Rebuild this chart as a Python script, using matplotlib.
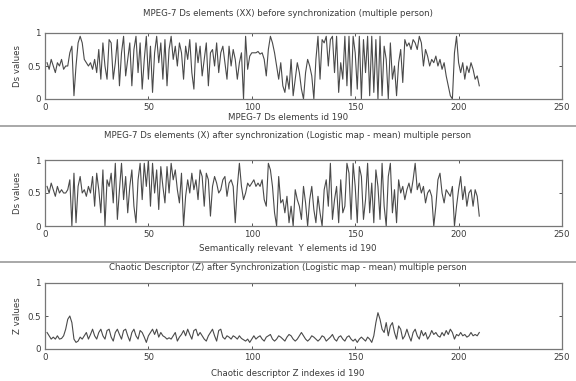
import numpy as np
import matplotlib
matplotlib.use("Agg")
import matplotlib.pyplot as plt

# values (index 1..210)
ds_before = [
    0.55, 0.45, 0.60, 0.50, 0.40, 0.55, 0.50, 0.60, 0.45, 0.50,
    0.50, 0.70, 0.80, 0.05, 0.50, 0.85, 0.95, 0.85, 0.60, 0.55,
    0.50, 0.55, 0.45, 0.60, 0.40, 0.75, 0.30, 0.85, 0.50, 0.30,
    0.90, 0.85, 0.30, 0.55, 0.90, 0.20, 0.70, 0.95, 0.35, 0.60,
    0.85, 0.20, 0.75, 0.95, 0.40, 0.85, 0.15, 0.60, 0.95, 0.30,
    0.80, 0.10, 0.70, 0.95, 0.55, 0.85, 0.30, 0.90, 0.20, 0.75,
    0.95, 0.60, 0.80, 0.50, 0.85, 0.70, 0.30, 0.80, 0.60, 0.90,
    0.40, 0.15, 0.85, 0.55, 0.80, 0.35, 0.60, 0.85, 0.20, 0.70,
    0.75, 0.50, 0.85, 0.40, 0.70, 0.80, 0.55, 0.30, 0.80, 0.50,
    0.75, 0.60, 0.30, 0.55, 0.70, 0.00, 0.95, 0.45, 0.65, 0.70,
    0.70, 0.70, 0.72, 0.68, 0.70, 0.60, 0.35, 0.75, 0.95, 0.85,
    0.70, 0.50, 0.30, 0.55, 0.20, 0.10, 0.35, 0.15, 0.60, 0.05,
    0.30, 0.55, 0.40, 0.15, 0.00, 0.40, 0.60, 0.50, 0.35, 0.00,
    0.60, 0.95, 0.30, 0.90, 0.85, 0.95, 0.50, 0.90, 0.95, 0.40,
    0.95, 0.10, 0.55, 0.30, 0.95, 0.20, 0.95, 0.05, 0.95, 0.70,
    0.15, 0.95, 0.00, 0.90, 0.40, 0.95, 0.05, 0.95, 0.10, 0.90,
    0.00, 0.95, 0.05, 0.80, 0.60, 0.00, 0.85, 0.30, 0.50, 0.05,
    0.55, 0.75, 0.25, 0.90, 0.80, 0.85, 0.75, 0.90, 0.85, 0.75,
    0.95, 0.85, 0.50, 0.75, 0.65, 0.50, 0.60, 0.55, 0.65, 0.50,
    0.60, 0.45, 0.55, 0.35, 0.20, 0.05, 0.00, 0.70, 0.95, 0.55,
    0.40, 0.55, 0.30, 0.50, 0.40, 0.55, 0.45, 0.30, 0.35, 0.20,
]

ds_after = [
    0.60, 0.50, 0.65, 0.55, 0.45, 0.60, 0.50, 0.55, 0.50, 0.50,
    0.55, 0.70, 0.00, 0.80, 0.05, 0.60, 0.75, 0.50, 0.55, 0.45,
    0.60, 0.50, 0.75, 0.30, 0.80, 0.55, 0.20, 0.85, 0.00, 0.70,
    0.60, 0.80, 0.35, 0.95, 0.10, 0.55, 0.95, 0.40, 0.75, 0.20,
    0.60, 0.85, 0.30, 0.05, 0.70, 0.95, 0.40, 0.95, 0.60, 1.00,
    0.30, 0.95, 0.50, 0.85, 0.25, 0.90, 0.60, 0.35, 0.90, 0.50,
    0.95, 0.70, 0.85, 0.55, 0.35, 0.80, 0.00, 0.45, 0.70, 0.50,
    0.80, 0.55, 0.70, 0.40, 0.85, 0.75, 0.30, 0.80, 0.70, 0.15,
    0.60, 0.75, 0.65, 0.50, 0.55, 0.70, 0.75, 0.45, 0.65, 0.70,
    0.60, 0.05, 0.60, 0.95, 0.60, 0.40, 0.50, 0.65, 0.60, 0.65,
    0.70, 0.60, 0.65, 0.60, 0.70, 0.40, 0.30, 0.95, 0.85, 0.60,
    0.20, 0.00, 0.75, 0.35, 0.40, 0.20, 0.45, 0.05, 0.30, 0.00,
    0.55, 0.40, 0.30, 0.10, 0.60, 0.35, 0.00, 0.40, 0.60, 0.25,
    0.05, 0.45, 0.20, 0.00, 0.55, 0.70, 0.30, 0.95, 0.10, 0.40,
    0.60, 0.05, 0.70, 0.20, 0.30, 0.95, 0.80, 0.10, 0.95, 0.60,
    0.05, 0.90, 0.75, 0.10, 0.40, 0.95, 0.20, 0.65, 0.05, 0.85,
    0.60, 0.10, 0.95, 0.30, 0.00, 0.75, 0.95, 0.20, 0.55, 0.05,
    0.70, 0.50, 0.60, 0.40, 0.55, 0.65, 0.50, 0.70, 0.95, 0.55,
    0.65, 0.50, 0.60, 0.35, 0.50, 0.55, 0.45, 0.00, 0.30, 0.70,
    0.80, 0.50, 0.35, 0.55, 0.50, 0.45, 0.60, 0.00, 0.30, 0.55,
    0.75, 0.40, 0.60, 0.30, 0.50, 0.55, 0.30, 0.55, 0.45, 0.15,
]

z_values = [
    0.25, 0.20, 0.15, 0.18, 0.15, 0.20, 0.15, 0.16, 0.20, 0.30,
    0.45, 0.50, 0.40, 0.15, 0.10, 0.12, 0.18, 0.15, 0.20, 0.25,
    0.15, 0.22, 0.30, 0.20, 0.15, 0.25, 0.30, 0.20, 0.15, 0.28,
    0.30, 0.18, 0.12, 0.25, 0.30, 0.22, 0.15, 0.28, 0.30, 0.20,
    0.12, 0.25, 0.30, 0.20, 0.15, 0.28, 0.25, 0.18, 0.10, 0.20,
    0.25, 0.30, 0.22, 0.30, 0.18, 0.25, 0.20, 0.18, 0.15, 0.17,
    0.15, 0.20, 0.25, 0.12, 0.18, 0.22, 0.28, 0.20, 0.30, 0.22,
    0.15, 0.28, 0.30, 0.20, 0.25, 0.20, 0.15, 0.12, 0.20, 0.25,
    0.30, 0.20, 0.12, 0.28, 0.30, 0.18, 0.15, 0.20, 0.18, 0.15,
    0.20, 0.18, 0.15, 0.20, 0.16, 0.14, 0.12, 0.15, 0.10, 0.15,
    0.20, 0.15, 0.18, 0.20, 0.15, 0.12, 0.18, 0.20, 0.22, 0.15,
    0.12, 0.15, 0.20, 0.18, 0.15, 0.12, 0.18, 0.22, 0.20, 0.15,
    0.12, 0.15, 0.20, 0.25, 0.20, 0.15, 0.12, 0.15, 0.20, 0.18,
    0.15, 0.12, 0.15, 0.20, 0.18, 0.12, 0.15, 0.18, 0.22, 0.15,
    0.12, 0.18, 0.20, 0.15, 0.12, 0.18, 0.20, 0.15, 0.12, 0.15,
    0.10, 0.15, 0.18, 0.15, 0.12, 0.18, 0.15, 0.10, 0.20, 0.40,
    0.55, 0.45, 0.30, 0.25, 0.40, 0.20, 0.35, 0.40, 0.25, 0.15,
    0.35, 0.30, 0.15, 0.20, 0.30, 0.20, 0.12, 0.25, 0.30, 0.20,
    0.15, 0.28, 0.20, 0.25, 0.15, 0.20, 0.28, 0.22, 0.25, 0.20,
    0.18, 0.25, 0.20, 0.28, 0.22, 0.30, 0.25, 0.15, 0.22, 0.20,
    0.25, 0.20, 0.22, 0.18, 0.20, 0.25, 0.20, 0.22, 0.20, 0.25,
]

titles = [
    "MPEG-7 Ds elements (XX) before synchronization (multiple person)",
    "MPEG-7 Ds elements (X) after synchronization (Logistic map - mean) multiple person",
    "Chaotic Descriptor (Z) after Synchronization (Logistic map - mean) multiple person",
]
xlabels = [
    "MPEG-7 Ds elements id 190",
    "Semantically relevant  Y elements id 190",
    "Chaotic descriptor Z indexes id 190",
]
ylabels = ["Ds values", "Ds values", "Z values"]
x_ticks = [0, 50, 100, 150, 200, 250]
y_ticks = [0, 0.5, 1]

W, H = 576, 381
INK = "#3a3a3a"
FS = 6.2

fig = plt.figure(figsize=(W / 100, H / 100), dpi=100)

# axes boxes in pixels: (top, bottom)
boxes = [(33, 99), (160, 226), (283, 349)]
title_y = [14, 135, 268]
xlabel_y = [118, 249, 374]
left, right = 45, 562

for i, series in enumerate([ds_before, ds_after, z_values]):
    top, bot = boxes[i]
    ax = fig.add_axes([left / W, 1 - bot / H, (right - left) / W, (bot - top) / H])
    x = np.arange(1, len(series) + 1)
    ax.plot(x, series, color="#4a4a4a", lw=0.8)
    ax.set_xlim(0, 250)
    ax.set_ylim(0, 1)
    ax.set_xticks(x_ticks)
    ax.set_yticks(y_ticks)
    ax.set_yticklabels(["0", "0.5", "1"])
    ax.tick_params(direction="in", length=2.5, width=0.6, labelsize=FS,
                   colors=INK, top=True, right=True, pad=3)
    for sp in ax.spines.values():
        sp.set_color("#777777")
        sp.set_linewidth(0.9)
    ax.set_ylabel(ylabels[i], fontsize=FS, color=INK, labelpad=4)
    fig.text(0.5, 1 - title_y[i] / H, titles[i], ha="center", va="center",
             fontsize=FS, color=INK)
    fig.text(0.5, 1 - xlabel_y[i] / H, xlabels[i], ha="center", va="center",
             fontsize=FS, color=INK)

# separators between the stacked scans
for yy in [126, 262]:
    fig.add_artist(plt.Line2D([0, 1], [1 - yy / H, 1 - yy / H],
                              transform=fig.transFigure, color="#999999", lw=1.2))

fig.savefig("out.png", dpi=100)
